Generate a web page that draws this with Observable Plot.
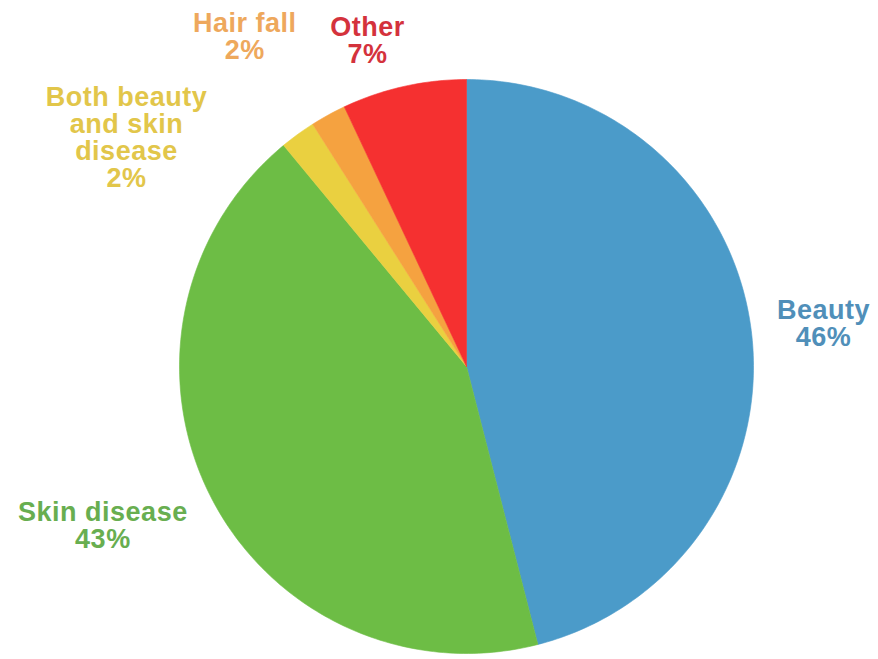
<!DOCTYPE html>
<html>
<head>
<meta charset="utf-8">
<script src="https://cdn.jsdelivr.net/npm/d3@7"></script>
<script src="https://cdn.jsdelivr.net/npm/@observablehq/plot@0.6"></script>
<style>
  html, body { margin: 0; padding: 0; background: #ffffff; }
  #chart svg { display: block; }
</style>
</head>
<body>
<div id="chart"></div>
<script>
// ---- data ----
const categories = ["Beauty", "Skin disease", "Both beauty and skin disease", "Hair fall", "Other"];
const labelTexts = ["Beauty", "Skin disease", "Both beauty\nand skin\ndisease", "Hair fall", "Other"];
const shares = [46, 43, 2, 2, 7];

// ---- styles ----
const sliceColors = ["#4b9bc9", "#6dbd45", "#ead040", "#f5a240", "#f53030"];
const textColors  = ["#508fb9", "#68ae50", "#e2c64a", "#eea85c", "#d4323c"];

// ---- layout (pie radius = 1 unit; label anchors = last-line baseline) ----
const labelAnchor = {
  "Beauty": [1.244, 0.073],
  "Skin disease": [-1.267, -0.631],
  "Both beauty and skin disease": [-1.185, 0.627],
  "Hair fall": [-0.773, 1.073],
  "Other": [-0.345, 1.059]
};

const rows = categories.map((c, i) => ({key: c, value: shares[i], text: labelTexts[i]}));

// build slice outlines from d3.pie angles (0 = 12 o'clock, clockwise)
const arcs = d3.pie().sort(null).value(d => d.value)(rows);
const slicePts = [];
for (const a of arcs) {
  const key = a.data.key;
  slicePts.push({key, x: 0, y: 0});
  const n = Math.max(4, Math.ceil((a.endAngle - a.startAngle) / (2 * Math.PI) * 360));
  for (let k = 0; k <= n; k++) {
    const t = a.startAngle + (a.endAngle - a.startAngle) * k / n;
    slicePts.push({key, x: Math.sin(t), y: Math.cos(t)});
  }
  slicePts.push({key, x: 0, y: 0});
}

const labels = rows.map(r => ({
  key: r.key,
  x: labelAnchor[r.key][0],
  y: labelAnchor[r.key][1],
  label: `${r.text}\n${r.value}%`
}));

const W = 878, H = 659;
const plot = Plot.plot({
  width: W,
  height: H,
  margin: 0,
  x: {domain: [-1.6237, 1.4355], range: [0, W], axis: null},
  y: {domain: [-1.0209, 1.2753], range: [H, 0], axis: null},
  color: {domain: categories, range: sliceColors},
  style: {background: "#ffffff", fontFamily: "'Liberation Sans', Arial, Helvetica, sans-serif", letterSpacing: "0.5px"},
  marks: [
    Plot.line(slicePts, {x: "x", y: "y", z: "key", fill: "key", stroke: "key", strokeWidth: 0.6, curve: "linear"}),
    Plot.text(labels, {
      x: "x", y: "y", text: "label",
      fill: d => textColors[categories.indexOf(d.key)],
      fontSize: 27, fontWeight: "bold",
      lineHeight: 0.99, lineAnchor: "bottom", textAnchor: "middle"
    })
  ]
});
document.getElementById("chart").appendChild(plot);
</script>
</body>
</html>
